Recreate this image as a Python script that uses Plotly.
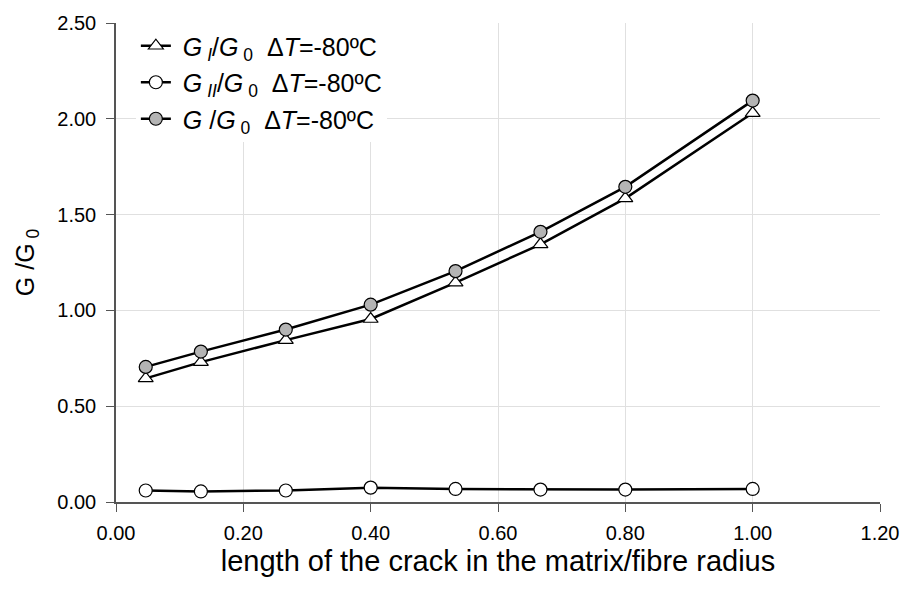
import plotly.graph_objects as go

crack_length = [0.0467, 0.1333, 0.2667, 0.4, 0.5333, 0.6667, 0.8, 1.0]
g_i = [0.645, 0.73, 0.845, 0.955, 1.145, 1.345, 1.585, 2.03]
g_ii = [0.06, 0.055, 0.06, 0.075, 0.068, 0.065, 0.065, 0.068]
g_total = [0.705, 0.785, 0.90, 1.03, 1.205, 1.41, 1.645, 2.095]

S = "\u00a0"
names = [
    f"{S}<i>G</i><sub>{S}<i>I</i></sub>/<i>G</i><sub>{S}0</sub>{S}{S}Δ<i>T</i>=-80ºC",
    f"{S}<i>G</i><sub>{S}<i>II</i></sub>/<i>G</i><sub>{S}0</sub>{S}{S}Δ<i>T</i>=-80ºC",
    f"{S}<i>G</i>{S}/<i>G</i><sub>{S}0</sub>{S}{S}Δ<i>T</i>=-80ºC",
]

FONT = "Liberation Sans, Arial, sans-serif"

fig = go.Figure()
fig.add_trace(go.Scatter(x=crack_length, y=g_i, name=names[0], mode="lines+markers",
                         legendgroup="a",
                         line=dict(color="black", width=2.5),
                         marker=dict(symbol="triangle-up", size=13, color="white",
                                     line=dict(color="black", width=1.2))))
fig.add_trace(go.Scatter(x=crack_length, y=g_ii, name=names[1], mode="lines+markers",
                         legendgroup="b",
                         line=dict(color="black", width=2.5),
                         marker=dict(symbol="circle", size=13, color="white",
                                     line=dict(color="black", width=1.2))))
fig.add_trace(go.Scatter(x=crack_length, y=g_total, name=names[2], mode="lines+markers",
                         legendgroup="c",
                         line=dict(color="black", width=2.5),
                         marker=dict(symbol="circle", size=13, color="#b4b4b4",
                                     line=dict(color="black", width=1.2))))

fig.update_layout(
    width=913, height=592,
    margin=dict(l=116, r=33, t=19, b=90),
    paper_bgcolor="white", plot_bgcolor="white",
    font=dict(family=FONT, color="black"),
    showlegend=True,
    legend=dict(x=0.026, y=1.0, xanchor="left", yanchor="top",
                bgcolor="rgba(255,255,255,1)", borderwidth=0,
                font=dict(family=FONT, size=25, color="black"),
                tracegroupgap=1, itemwidth=30),
    xaxis=dict(range=[0, 1.2], tick0=0, dtick=0.2, tickformat=".2f",
               showgrid=True, gridcolor="#e0e0e0", gridwidth=1,
               showline=True, linecolor="#555555", linewidth=1.5,
               ticks="outside", ticklen=8, tickcolor="#555555",
               ticklabelstandoff=4,
               tickfont=dict(family=FONT, size=20, color="black"),
               zeroline=False,
               title=dict(text="length of the crack in the matrix/fibre radius",
                          font=dict(family=FONT, size=29, color="black"), standoff=8)),
    yaxis=dict(range=[0, 2.5], tick0=0, dtick=0.5, tickformat=".2f",
               showgrid=True, gridcolor="#e0e0e0", gridwidth=1,
               showline=True, linecolor="#555555", linewidth=1.5,
               ticks="outside", ticklen=8, tickcolor="#555555",
               ticklabelstandoff=6,
               tickfont=dict(family=FONT, size=20, color="black"),
               zeroline=False,
               title=dict(text="G /G<sub> 0</sub>",
                          font=dict(family=FONT, size=25, color="black"), standoff=16)),
)

fig.write_html("out.html")
